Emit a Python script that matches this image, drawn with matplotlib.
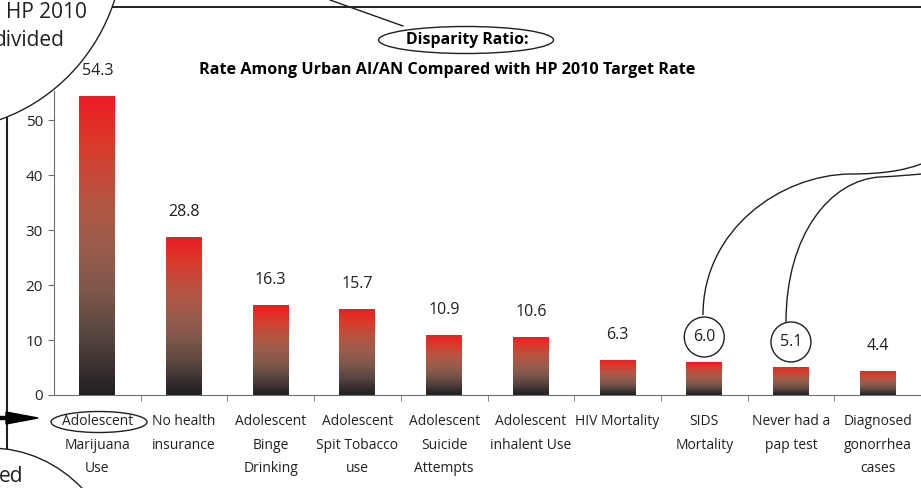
import numpy as np
import matplotlib
matplotlib.use('Agg')
import matplotlib.pyplot as plt
from matplotlib.colors import LinearSegmentedColormap
from matplotlib.patches import Ellipse, Polygon, PathPatch
from matplotlib.path import Path

plt.rcParams['font.family'] = ['Open Sans', 'DejaVu Sans']

categories = ['Adolescent\nMarijuana\nUse', 'No health\ninsurance', 'Adolescent\nBinge\nDrinking',
              'Adolescent\nSpit Tobacco\nuse', 'Adolescent\nSuicide\nAttempts', 'Adolescent\ninhalent Use',
              'HIV Mortality', 'SIDS\nMortality', 'Never had a\npap test', 'Diagnosed\ngonorrhea\ncases']
ratios = [54.3, 28.8, 16.3, 15.7, 10.9, 10.6, 6.3, 6.0, 5.1, 4.4]
circled = [7, 8]
yticks = [0, 10, 20, 30, 40, 50]

INK = '#231f20'
W, H = 921, 488


def main():
    fig = plt.figure(figsize=(9.21, 4.88), dpi=100)
    ax = fig.add_axes([54 / W, 1 - 395 / H, 1 - 54 / W, (395 - 91) / H])

    cmap = LinearSegmentedColormap.from_list('bar', [
        (0.0, '#231f20'), (0.05, '#2d2828'), (0.2, '#584640'), (0.35, '#7d584b'),
        (0.5, '#9a5c4b'), (0.65, '#b45643'), (0.85, '#da3a2a'), (1.0, '#ed1c24')])
    grad = np.linspace(0, 1, 256).reshape(-1, 1)

    x = np.arange(len(ratios))
    width = 0.415
    bars = ax.bar(x, ratios, width, color='none', edgecolor='none')
    for b in bars:
        im = ax.imshow(grad, cmap=cmap, origin='lower', aspect='auto',
                       extent=[b.get_x(), b.get_x() + b.get_width(), 0, b.get_height()])
        im.set_clip_path(b)

    for i, v in enumerate(ratios):
        kw = {}
        if i in circled:
            kw['bbox'] = dict(boxstyle='circle,pad=0.55', fc='none', ec=INK, lw=1)
        ax.annotate(f'{v:.1f}', (x[i], v), xytext=(0, 18), textcoords='offset points',
                    ha='center', va='center', fontsize=11.5, color=INK, **kw)

    ax.set_xlim(-0.5, len(ratios) - 0.5)
    ax.set_ylim(0, 55.3)
    ax.set_yticks(yticks)
    ax.set_xticks(x)
    ax.set_xticklabels(categories, linespacing=1.75, va='top')
    ax.set_xticks(np.arange(0.5, len(ratios) - 0.5), minor=True)
    ax.tick_params(axis='x', which='major', length=0, pad=14, labelsize=10, colors=INK)
    ax.tick_params(axis='x', which='minor', length=4, color='#6d6e71')
    ax.tick_params(axis='y', length=4, color='#6d6e71', labelsize=11, labelcolor=INK, pad=4)
    for s in ['top', 'right']:
        ax.spines[s].set_visible(False)
    ax.spines['left'].set_color('#6d6e71')
    ax.spines['bottom'].set_color('#6d6e71')

    # callout layer in pixel coordinates
    ov = fig.add_axes([0, 0, 1, 1], zorder=5)
    ov.set_xlim(0, W)
    ov.set_ylim(H, 0)
    ov.axis('off')

    ov.plot([0, W], [7, 7], color=INK, lw=1.4, zorder=1)
    ov.plot([330, 403], [0, 26], color=INK, lw=1, zorder=1)
    ov.plot([7, 7], [100, 488], color=INK, lw=1.5, zorder=1)
    ov.add_patch(Polygon([(0, 416.5), (6, 416.5), (6, 412), (38, 418), (6, 424), (6, 419.5), (0, 419.5)],
                         closed=True, color='black', zorder=2))

    ov.add_patch(Ellipse((-60, -60), 368, 380, fc='white', ec=INK, lw=1, zorder=3))
    ov.add_patch(Ellipse((-10, 590), 264, 284, fc='white', ec=INK, lw=1, zorder=3))
    ov.text(87, 12, 'HP 2010', ha='right', va='center', fontsize=15, color=INK, zorder=4)
    ov.text(65, 41, 'divided', ha='right', va='center', fontsize=15, color=INK, zorder=4)
    ov.text(23, 476, 'ed', ha='right', va='center', fontsize=15, color=INK, zorder=4)

    ov.add_patch(Ellipse((466, 40), 175, 27, fc='white', ec=INK, lw=1, zorder=3))
    ov.text(467, 40, 'Disparity Ratio:', ha='center', va='center', fontsize=11.4,
            fontweight='bold', color='black', zorder=4)
    ov.text(447, 70, 'Rate Among Urban AI/AN Compared with HP 2010 Target Rate', ha='center',
            va='center', fontsize=11.6, fontweight='bold', color='black', zorder=4)

    ov.add_patch(Ellipse((99, 422), 96, 21, fc='none', ec=INK, lw=1, zorder=3))

    c = [Path.MOVETO, Path.CURVE4, Path.CURVE4, Path.CURVE4, Path.CURVE4, Path.CURVE4, Path.CURVE4]
    ov.add_patch(PathPatch(Path([(703, 315), (703, 230), (780, 175), (850, 174),
                                 (885, 174), (905, 170), (921, 164)], c), fc='none', ec=INK, lw=1))
    ov.add_patch(PathPatch(Path([(786, 322), (786, 235), (830, 180), (880, 177),
                                 (900, 176), (910, 175), (921, 174)], c), fc='none', ec=INK, lw=1))

    fig.savefig('out.png', dpi=100)


if __name__ == '__main__':
    main()
